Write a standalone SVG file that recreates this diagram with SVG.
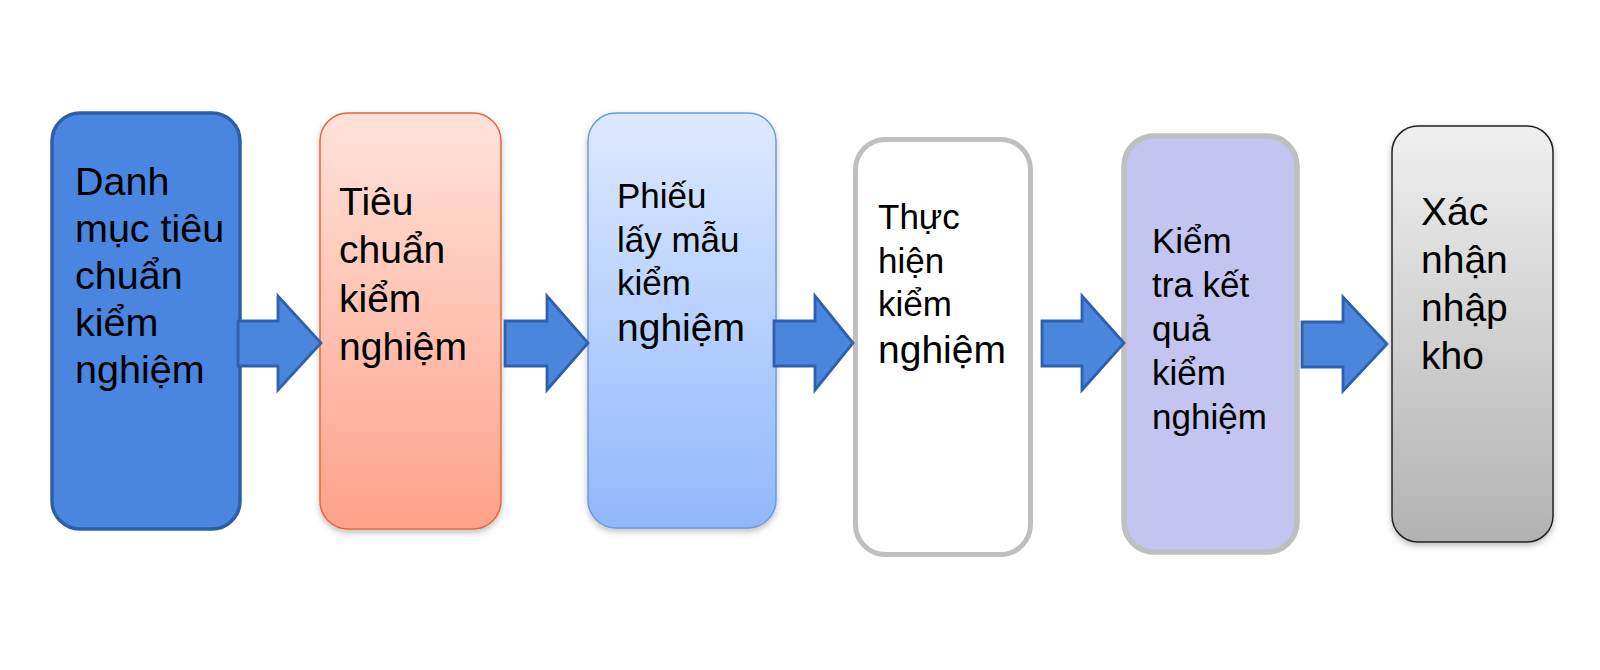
<svg xmlns="http://www.w3.org/2000/svg" width="1600" height="670" viewBox="0 0 1600 670">
  <defs>
    <linearGradient id="gOrange" x1="0" y1="0" x2="0" y2="1">
      <stop offset="0" stop-color="#ffe2da"/>
      <stop offset="1" stop-color="#ffa18a"/>
    </linearGradient>
    <linearGradient id="gBlue" x1="0" y1="0" x2="0" y2="1">
      <stop offset="0" stop-color="#dde9ff"/>
      <stop offset="1" stop-color="#91b7fa"/>
    </linearGradient>
    <linearGradient id="gGray" x1="0" y1="0" x2="0" y2="1">
      <stop offset="0" stop-color="#efefef"/>
      <stop offset="1" stop-color="#b2b2b2"/>
    </linearGradient>
    <filter id="shadow" x="-10%" y="-10%" width="120%" height="120%">
      <feDropShadow dx="0" dy="3" stdDeviation="3" flood-color="#000" flood-opacity="0.25"/>
    </filter>
  </defs>
  <style>
    text { font-family: "Liberation Sans", Arial, sans-serif; fill: #000; }
    .arrow { fill: #4a86dc; stroke: #2e60ad; stroke-width: 2.8; stroke-linejoin: miter; }
  </style>
  <rect width="1600" height="670" fill="#ffffff"/>

  <g id="node1">
    <rect x="52" y="113" width="188" height="416" rx="28" fill="#4a86df" stroke="#2e5fa6" stroke-width="3.5"/>
    <text font-size="39.5">
      <tspan x="75" y="195">Danh</tspan>
      <tspan x="75" y="242">mục tiêu</tspan>
      <tspan x="75" y="289">chuẩn</tspan>
      <tspan x="75" y="336">kiểm</tspan>
      <tspan x="75" y="383">nghiệm</tspan>
    </text>
  </g>

  <g id="node2">
    <rect x="320" y="113" width="181" height="416" rx="28" fill="url(#gOrange)" stroke="#e2693e" stroke-width="1.5" filter="url(#shadow)"/>
    <text font-size="39">
      <tspan x="339" y="215">Tiêu</tspan>
      <tspan x="339" y="263">chuẩn</tspan>
      <tspan x="339" y="312">kiểm</tspan>
      <tspan x="339" y="360">nghiệm</tspan>
    </text>
  </g>

  <g id="node3">
    <rect x="588" y="113" width="188" height="415" rx="28" fill="url(#gBlue)" stroke="#6b9be2" stroke-width="1.5" filter="url(#shadow)"/>
    <text font-size="35">
      <tspan x="617" y="208">Phiếu</tspan>
      <tspan x="617" y="252">lấy mẫu</tspan>
      <tspan x="617" y="295">kiểm</tspan>
      <tspan x="617" y="341" font-size="39">nghiệm</tspan>
    </text>
  </g>

  <g id="node4">
    <rect x="855.5" y="139.5" width="175" height="415" rx="30" fill="#ffffff" stroke="#bfbfbf" stroke-width="5"/>
    <text font-size="35">
      <tspan x="878" y="229">Thực</tspan>
      <tspan x="878" y="273">hiện</tspan>
      <tspan x="878" y="316">kiểm</tspan>
      <tspan x="878" y="363" font-size="39">nghiệm</tspan>
    </text>
  </g>

  <g id="node5">
    <rect x="1124" y="136" width="173" height="416" rx="30" fill="#c4c4f0" stroke="#bfbfbf" stroke-width="5.5"/>
    <text font-size="35">
      <tspan x="1152" y="253">Kiểm</tspan>
      <tspan x="1152" y="297">tra kết</tspan>
      <tspan x="1152" y="341">quả</tspan>
      <tspan x="1152" y="385">kiểm</tspan>
      <tspan x="1152" y="429">nghiệm</tspan>
    </text>
  </g>

  <g id="node6">
    <rect x="1392" y="126" width="161" height="416" rx="26" fill="url(#gGray)" stroke="#222222" stroke-width="1.5" filter="url(#shadow)"/>
    <text font-size="39">
      <tspan x="1421" y="225">Xác</tspan>
      <tspan x="1421" y="273">nhận</tspan>
      <tspan x="1421" y="321">nhập</tspan>
      <tspan x="1421" y="369">kho</tspan>
    </text>
  </g>

  <g id="connectors">
    <polygon class="arrow" points="238,321 278,321 278,296 321,343 278,390 278,366 238,366"/>
    <polygon class="arrow" points="505,321 547,321 547,296 588,343 547,390 547,366 505,366"/>
    <polygon class="arrow" points="774,321 815,321 815,296 853,343 815,390 815,366 774,366"/>
    <polygon class="arrow" points="1042,321 1082,321 1082,296 1124,343 1082,390 1082,366 1042,366"/>
    <polygon class="arrow" points="1302,322 1343,322 1343,297 1387,344 1343,391 1343,367 1302,367"/>
  </g>
</svg>
